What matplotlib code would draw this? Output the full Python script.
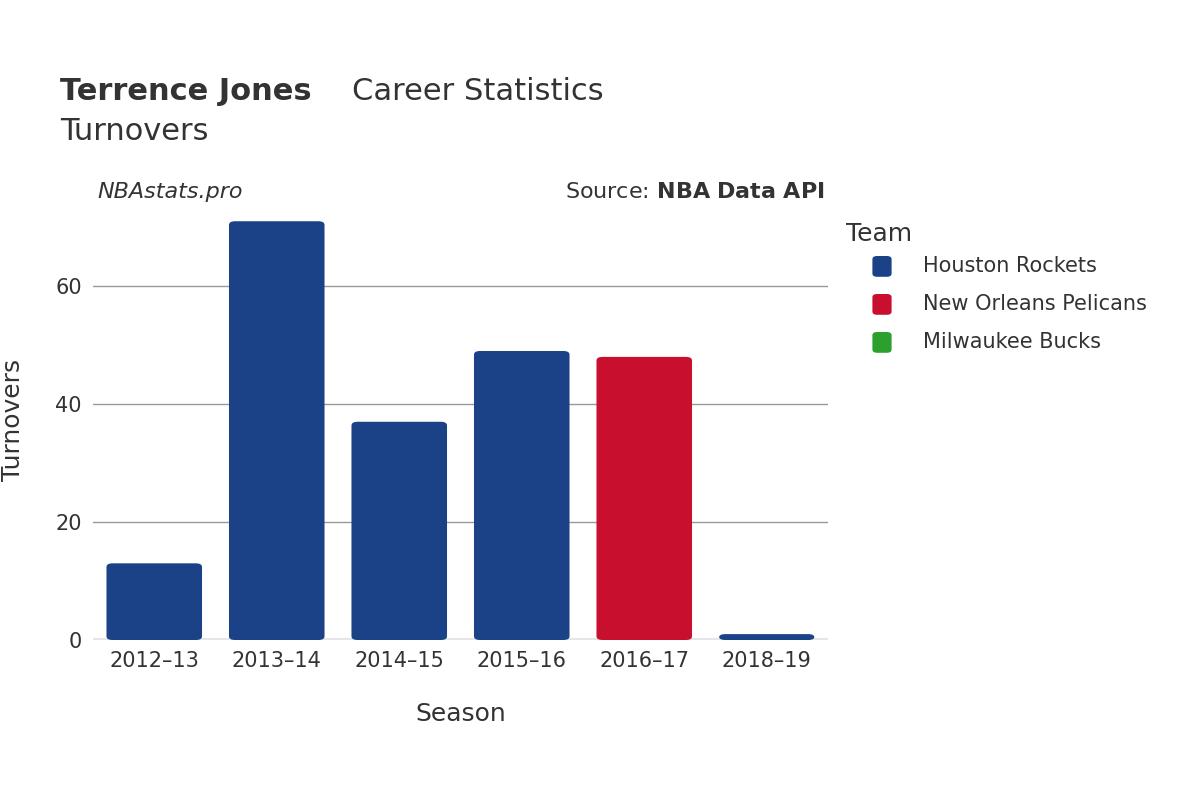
import matplotlib
matplotlib.use("Agg")
import matplotlib.pyplot as plt
from matplotlib.patches import FancyBboxPatch

seasons = ["2012–13", "2013–14", "2014–15", "2015–16", "2016–17", "2018–19"]
turnovers = [13, 71, 37, 49, 48, 1]
teams = ["Houston Rockets", "Houston Rockets", "Houston Rockets", "Houston Rockets",
         "New Orleans Pelicans", "Houston Rockets"]
legend_teams = ["Houston Rockets", "New Orleans Pelicans", "Milwaukee Bucks"]
team_colors = {"Houston Rockets": "#1b4287", "New Orleans Pelicans": "#c8102e",
               "Milwaukee Bucks": "#2ca02c"}

plt.rcParams["font.family"] = "DejaVu Sans"
fig = plt.figure(figsize=(12, 8), dpi=100)
ax = fig.add_axes([0.0775, 0.2, 0.6125, 0.55])
ymax = 74.6
ax.set_xlim(-0.5, len(seasons) - 0.5)
ax.set_ylim(0, ymax)
w = 0.78
for i, (v, t) in enumerate(zip(turnovers, teams)):
    p = FancyBboxPatch((i - w / 2, 0), w, v,
                       boxstyle="round,pad=0,rounding_size=0.05",
                       mutation_aspect=ymax / 6 * 1.0 * (735 / 440) / 1.0 / 1.0 * 6 / 6 / (6 / 6) * 1 / 1 * 1 / 1 / (ymax / 6) * (ymax / 6) / (735 / 440) * (440 / 735) * 6 / 6 * (ymax / 440) / (6 / 735) / (ymax / 6),
                       facecolor=team_colors[t], edgecolor="none", zorder=3)
    ax.add_patch(p)
ax.set_yticks([0, 20, 40, 60])
ax.grid(axis="y", color="#999999", linewidth=1, zorder=0)
ax.axhline(0, color="#e5e5ea", linewidth=3, zorder=2)
ax.set_xticks(range(len(seasons)))
ax.set_xticklabels(seasons)
ax.tick_params(axis="both", length=0, labelsize=15, colors="#333333", pad=8)
for s in ax.spines.values():
    s.set_visible(False)
ax.set_xlabel("Season", fontsize=18, color="#333333", labelpad=22)
ax.set_ylabel("Turnovers", fontsize=18, color="#333333", labelpad=22)

fig.text(0.05, 0.875, "Terrence Jones", fontsize=22, fontweight="bold", color="#333333", va="baseline")
fig.text(0.05 + 0.243, 0.875, "Career Statistics", fontsize=22, color="#333333", va="baseline")
fig.text(0.05, 0.825, "Turnovers", fontsize=22, color="#333333", va="baseline")
fig.text(0.081, 0.752, "NBAstats.pro", fontsize=16, style="italic", color="#333333", va="baseline")
fig.text(0.687, 0.752, "Source: $\\bf{NBA\\ Data\\ API}$", fontsize=16, color="#333333", va="baseline", ha="right")

fig.text(0.705, 0.707, "Team", fontsize=18, color="#333333", va="center")
for k, t in enumerate(legend_teams):
    y = 0.667 - k * 0.0475
    fig.patches.append(FancyBboxPatch((0.727, y - 0.013), 0.016, 0.026,
                                      boxstyle="round,pad=0,rounding_size=0.004",
                                      transform=fig.transFigure, facecolor=team_colors[t],
                                      edgecolor="none"))
    fig.text(0.769, y, t, fontsize=15, color="#333333", va="center")

fig.savefig("out.png", dpi=100)
